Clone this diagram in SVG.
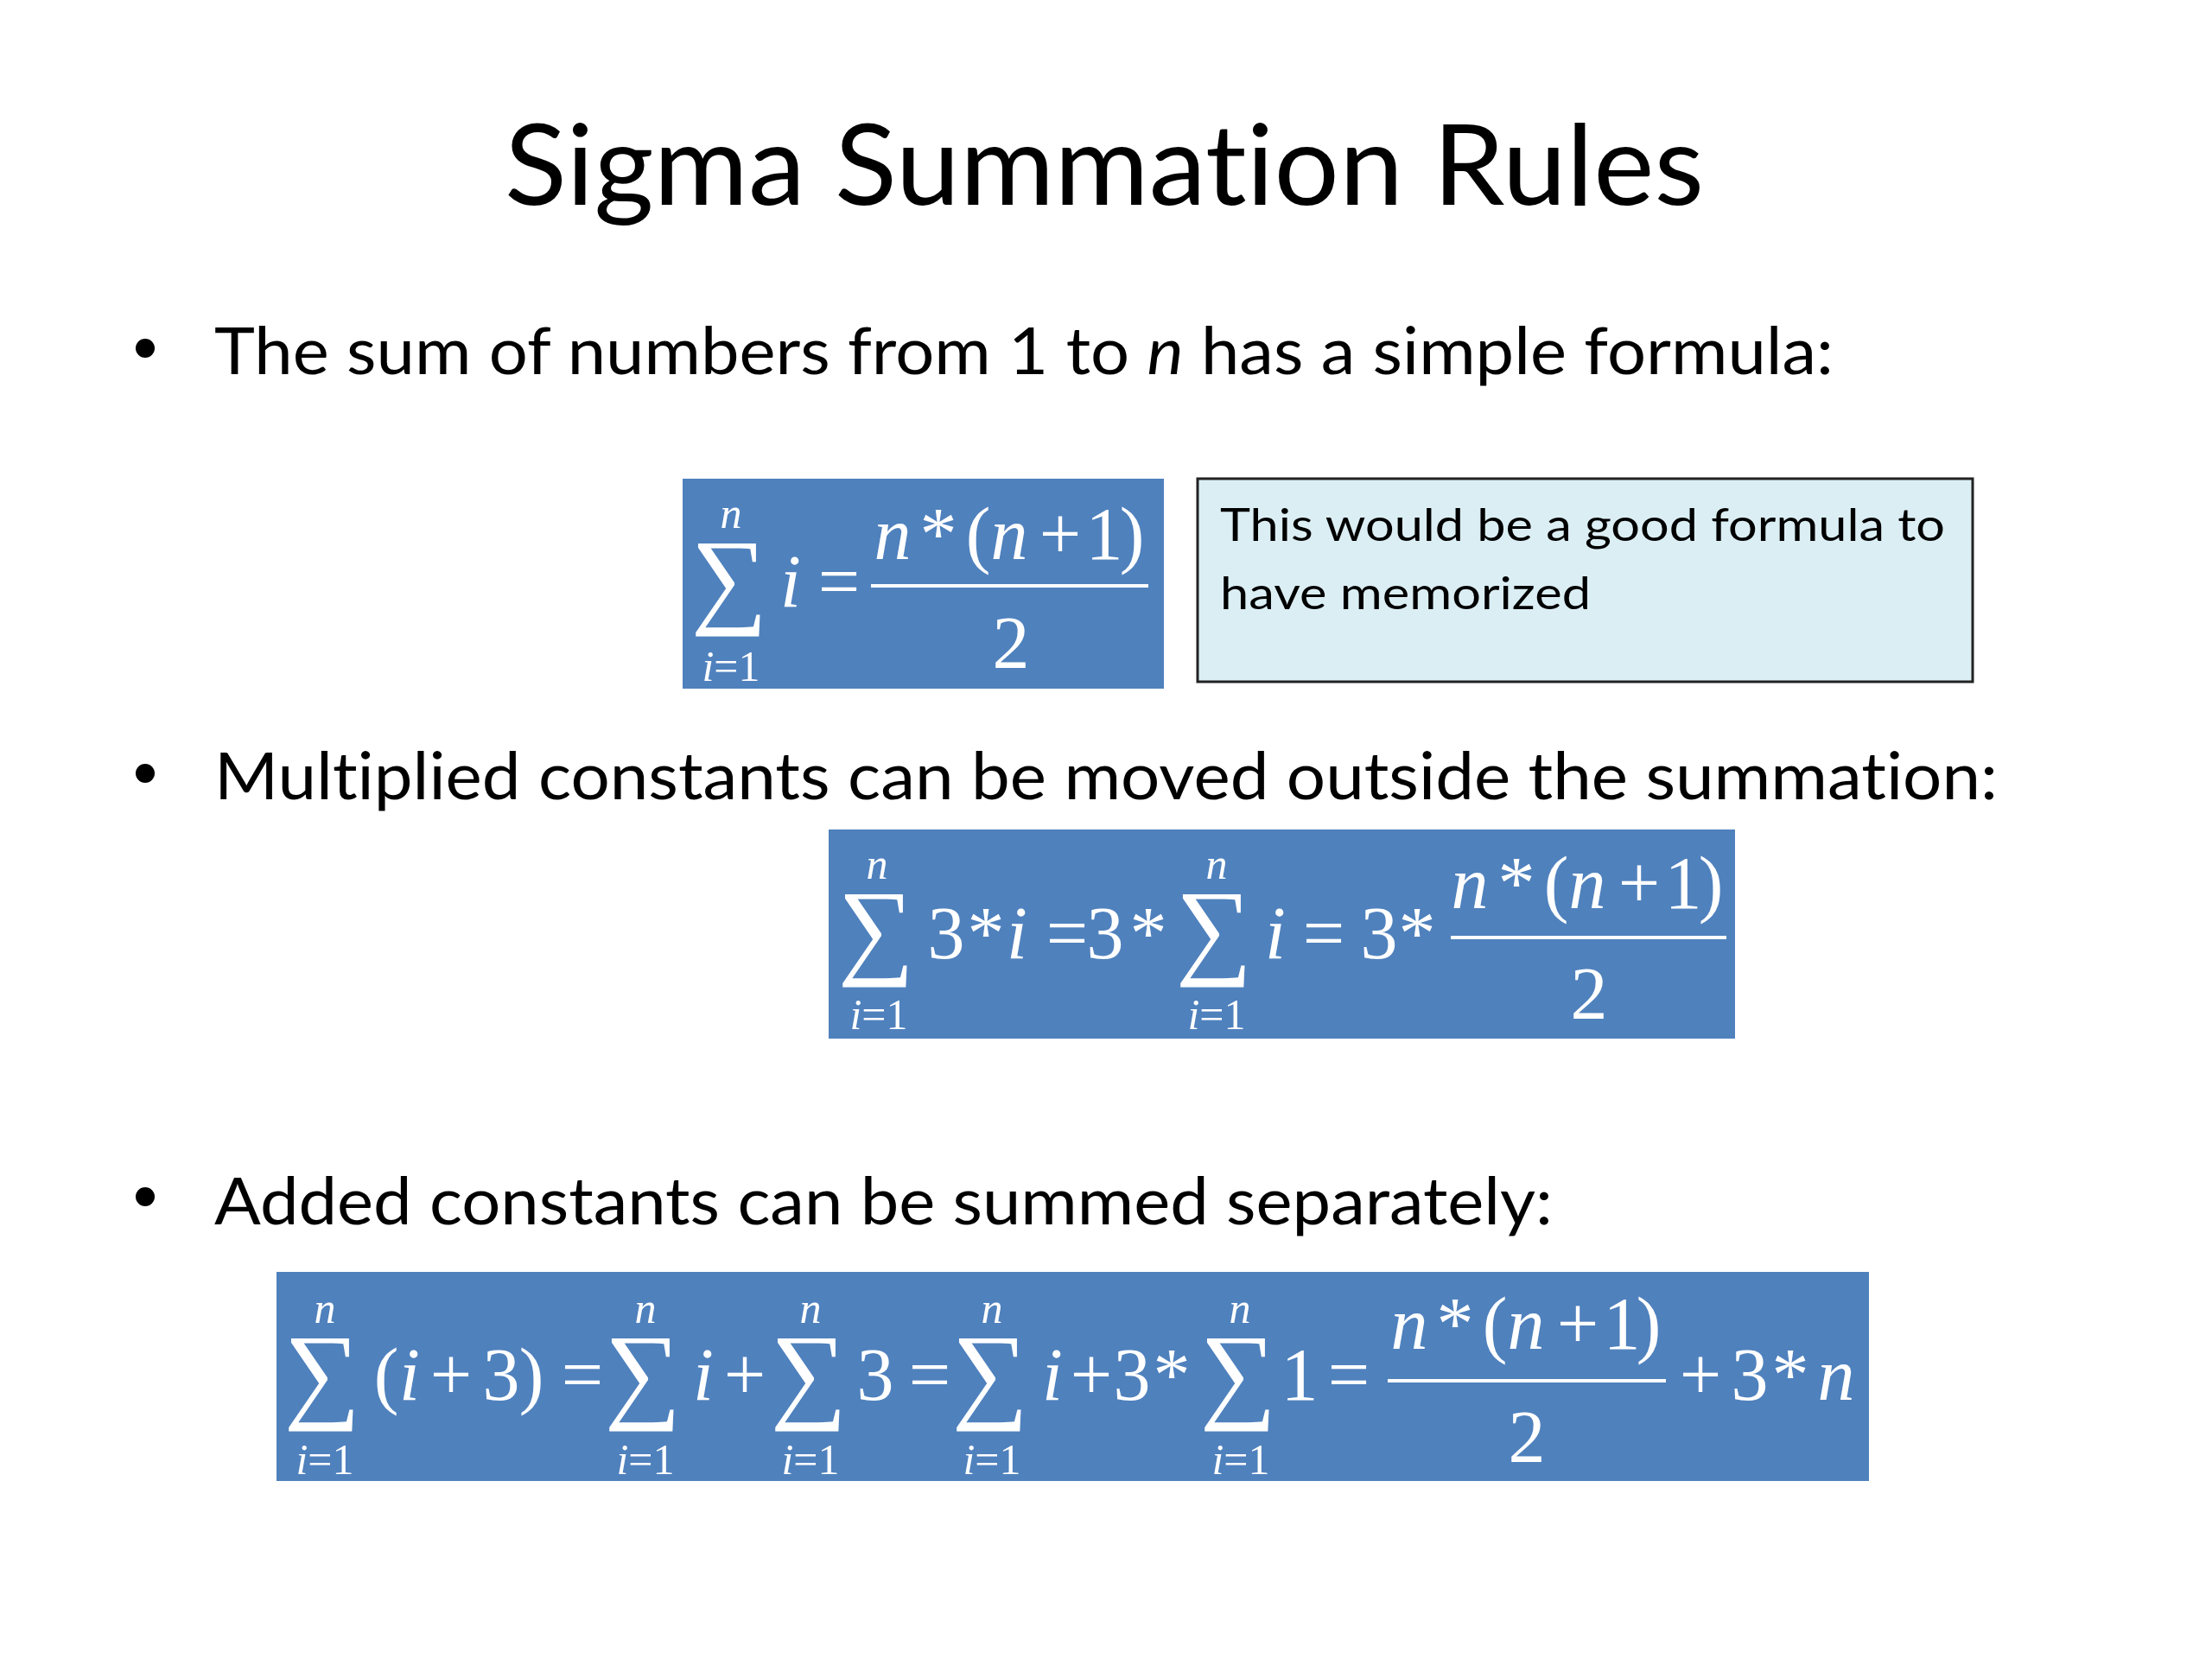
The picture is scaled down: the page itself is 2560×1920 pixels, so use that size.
<svg xmlns="http://www.w3.org/2000/svg" width="2560" height="1920" viewBox="0 0 2560 1920">
<style>
.t{font-family:Lato,"Open Sans","Liberation Sans",sans-serif;fill:#000;font-variant-ligatures:none;font-feature-settings:"liga" 0,"clig" 0}
.m{font-family:"Liberation Serif","Times New Roman",serif;fill:#fff;font-size:86px;text-anchor:middle}
.i{font-style:italic}
.lim{font-size:50px}
.sig{font-size:124px}
.box{fill:#4F81BD}
.bar{stroke:#fff;stroke-width:4}
</style>
<rect width="2560" height="1920" fill="#fff"/>
<g id="title"><text class="t" x="584" y="237" font-size="130" textLength="1388" lengthAdjust="spacingAndGlyphs">Sigma Summation Rules</text></g>
<g id="bullet1">
<circle cx="168" cy="403" r="11"/>
<text class="t" x="248" y="433" font-size="76" textLength="1874" lengthAdjust="spacingAndGlyphs">The sum of numbers from 1 to <tspan font-style="italic">n</tspan> has a simple formula:</text>
</g>
<g id="formula1">
<rect class="box" x="790" y="554" width="557" height="243"/>
<text class="m sig" x="844" y="710">∑</text>
<text class="m lim i" x="846" y="611">n</text>
<text class="m lim" x="846" y="788"><tspan font-style="italic">i</tspan>=1</text>
<text class="m i" x="915" y="702">i</text>
<text class="m" x="971" y="702">=</text>
<line class="bar" x1="1008" y1="678" x2="1329" y2="678"/>
<text class="m" y="647"><tspan class="i" x="1033">n</tspan><tspan x="1086">*</tspan><tspan x="1132">(</tspan><tspan class="i" x="1168">n</tspan><tspan x="1227">+</tspan><tspan x="1278">1</tspan><tspan x="1310">)</tspan></text>
<text class="m" x="1170" y="773">2</text>
</g>
<g id="note">
<rect x="1386" y="554" width="897" height="235" fill="#DBEEF4" stroke="#222" stroke-width="3"/>
<text class="t" x="1412" y="626" font-size="52" textLength="839" lengthAdjust="spacingAndGlyphs">This would be a good formula to</text>
<text class="t" x="1412" y="705" font-size="52" textLength="429" lengthAdjust="spacingAndGlyphs">have memorized</text>
</g>
<g id="bullet2">
<circle cx="168" cy="895" r="11"/>
<text class="t" x="248" y="925" font-size="76" textLength="2064" lengthAdjust="spacingAndGlyphs">Multiplied constants can be moved outside the summation:</text>
</g>
<g id="formula2">
<rect class="box" x="959" y="960" width="1049" height="242"/>
<text class="m sig" x="1014" y="1116">∑</text>
<text class="m lim i" x="1015" y="1017">n</text>
<text class="m lim" x="1017" y="1191"><tspan font-style="italic">i</tspan>=1</text>
<text class="m" x="1095" y="1109">3</text>
<text class="m" x="1141" y="1109">*</text>
<text class="m i" x="1177" y="1109">i</text>
<text class="m" x="1235" y="1109">=</text>
<text class="m" x="1279" y="1109">3</text>
<text class="m" x="1329" y="1109">*</text>
<text class="m sig" x="1405" y="1116">∑</text>
<text class="m lim i" x="1408" y="1017">n</text>
<text class="m lim" x="1408" y="1191"><tspan font-style="italic">i</tspan>=1</text>
<text class="m i" x="1476" y="1109">i</text>
<text class="m" x="1532" y="1109">=</text>
<text class="m" x="1596" y="1109">3</text>
<text class="m" x="1640" y="1109">*</text>
<line class="bar" x1="1679" y1="1085" x2="1998" y2="1085"/>
<text class="m" y="1051"><tspan class="i" x="1701">n</tspan><tspan x="1755">*</tspan><tspan x="1801">(</tspan><tspan class="i" x="1837">n</tspan><tspan x="1897">+</tspan><tspan x="1948">1</tspan><tspan x="1980">)</tspan></text>
<text class="m" x="1839" y="1179">2</text>
</g>
<g id="bullet3">
<circle cx="168" cy="1385" r="11"/>
<text class="t" x="248" y="1417" font-size="76" textLength="1549" lengthAdjust="spacingAndGlyphs">Added constants can be summed separately:</text>
</g>
<g id="formula3">
<rect class="box" x="320" y="1472" width="1843" height="242"/>
<text class="m sig" x="373" y="1630">∑</text>
<text class="m lim i" x="376" y="1531">n</text>
<text class="m lim" x="376" y="1706"><tspan font-style="italic">i</tspan>=1</text>
<text class="m" x="447" y="1620">(</text>
<text class="m i" x="474" y="1620">i</text>
<text class="m" x="522" y="1620">+</text>
<text class="m" x="580" y="1620">3</text>
<text class="m" x="615" y="1620">)</text>
<text class="m" x="674" y="1620">=</text>
<text class="m sig" x="744" y="1630">∑</text>
<text class="m lim i" x="747" y="1531">n</text>
<text class="m lim" x="747" y="1706"><tspan font-style="italic">i</tspan>=1</text>
<text class="m i" x="814" y="1620">i</text>
<text class="m" x="862" y="1620">+</text>
<text class="m sig" x="936" y="1630">∑</text>
<text class="m lim i" x="938" y="1531">n</text>
<text class="m lim" x="938" y="1706"><tspan font-style="italic">i</tspan>=1</text>
<text class="m" x="1013" y="1620">3</text>
<text class="m" x="1076" y="1620">=</text>
<text class="m sig" x="1146" y="1630">∑</text>
<text class="m lim i" x="1148" y="1531">n</text>
<text class="m lim" x="1148" y="1706"><tspan font-style="italic">i</tspan>=1</text>
<text class="m i" x="1218" y="1620">i</text>
<text class="m" x="1263" y="1620">+</text>
<text class="m" x="1310" y="1620">3</text>
<text class="m" x="1356" y="1620">*</text>
<text class="m sig" x="1433" y="1630">∑</text>
<text class="m lim i" x="1435" y="1531">n</text>
<text class="m lim" x="1436" y="1706"><tspan font-style="italic">i</tspan>=1</text>
<text class="m" x="1504" y="1620">1</text>
<text class="m" x="1561" y="1620">=</text>
<line class="bar" x1="1606" y1="1598" x2="1928" y2="1598"/>
<text class="m" y="1561"><tspan class="i" x="1631">n</tspan><tspan x="1684">*</tspan><tspan x="1730">(</tspan><tspan class="i" x="1766">n</tspan><tspan x="1826">+</tspan><tspan x="1877">1</tspan><tspan x="1908">)</tspan></text>
<text class="m" x="1767" y="1692">2</text>
<text class="m" x="1968" y="1620">+</text>
<text class="m" x="2025" y="1620">3</text>
<text class="m" x="2072" y="1620">*</text>
<text class="m i" x="2125" y="1620">n</text>
</g>
<g id="connectors"/>
</svg>
